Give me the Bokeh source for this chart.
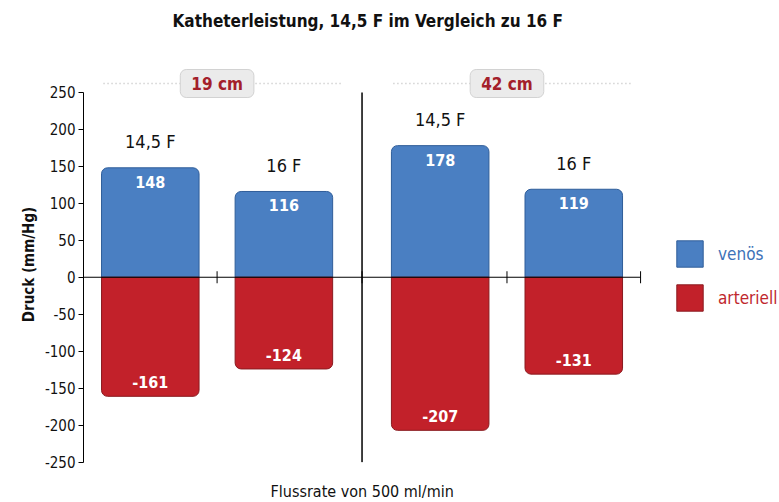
import math
from bokeh.plotting import figure
from bokeh.models import (Range1d, Title, Legend, LegendItem, ColumnDataSource, FixedTicker)
from bokeh.core.properties import value
from bokeh.embed import file_html
from bokeh.resources import INLINE

# ---- data ----
groups = ["19 cm", "42 cm"]
catheters = ["14,5 F", "16 F"]
venous = [148, 116, 178, 119]
arterial = [-161, -124, -207, -131]
y_ticks = [-250, -200, -150, -100, -50, 0, 50, 100, 150, 200, 250]

FONT = "DejaVu Sans Condensed"
BLUE = "#4a7fc2"
BLUE_EDGE = "#2f5d99"
RED = "#c2212a"
RED_EDGE = "#8a1a1f"

GAP = 0.17       # extra space between the two groups (in category units)
BAR_W = 0.73
n_c = len(catheters)
group_span = n_c + GAP
xpos = [gi * group_span + ci + 0.5 for gi in range(len(groups)) for ci in range(n_c)]
group_center = [gi * group_span + n_c / 2 for gi in range(len(groups))]
x_end = len(groups) * n_c + (len(groups) - 1) * GAP

src = ColumnDataSource(dict(
    x=xpos,
    cat=[c for g in groups for c in catheters],
    venous=venous,
    arterial=arterial,
    vtxt=[str(v) for v in venous],
    atxt=[str(v) for v in arterial],
))

p = figure(width=779, height=500, title=None,
           x_range=Range1d(0, 5.21),
           y_range=Range1d(-250.5, 285),
           output_backend="svg", toolbar_location=None, x_axis_location=None,
           min_border_left=83, min_border_right=0, min_border_top=66, min_border_bottom=38)
p.outline_line_color = None
p.grid.visible = False

# title (a blank spacer title sits between the frame and the real title)
p.add_layout(Title(text=" ", text_font_size="10px", standoff=23), "above")
p.add_layout(Title(text="Katheterleistung, 14,5 F im Vergleich zu 16 F", align="left",
                   offset=89, standoff=0, text_font=FONT, text_font_size="17px",
                   text_font_style="bold", text_color="#111111"), "above")

# y axis
ax = p.yaxis[0]
ax.bounds = (y_ticks[0], y_ticks[-1])
ax.ticker = FixedTicker(ticks=y_ticks)
ax.major_label_overrides = {t: str(t) for t in y_ticks}
ax.minor_tick_line_color = None
ax.major_tick_out = 5
ax.major_tick_in = 0
ax.major_label_standoff = 3
ax.major_label_text_font = FONT
ax.major_label_text_font_size = "15px"
ax.major_label_text_color = "#111111"
ax.axis_line_color = "black"
ax.major_tick_line_color = "black"
ax.axis_label = "Druck (mm/Hg)"
ax.axis_label_text_font = FONT
ax.axis_label_text_font_size = "15px"
ax.axis_label_text_font_style = "bold"
ax.axis_label_text_color = "#111111"
ax.axis_label_standoff = 4

# x label (with a blank spacer between frame and label)
p.add_layout(Title(text=" ", text_font_size="10px", standoff=4), "below")
p.add_layout(Title(text="Flussrate von 500 ml/min", align="left", offset=187, standoff=0,
                   text_font=FONT, text_font_size="16px", text_font_style="normal",
                   text_color="#111111"), "below")

# group headers: dotted line + boxed label
head_y = [y_ticks[-1] + 12] * len(groups)
p.segment(x0=[c - n_c / 2 + 0.15 for c in group_center], y0=head_y,
          x1=[c + n_c / 2 - 0.07 for c in group_center], y1=head_y,
          line_color="#bdbdbd", line_width=1.5, line_dash="1 3")
p.text(x=group_center, y=head_y, text=groups,
       text_font=value(FONT), text_font_size="17px", text_font_style="bold",
       text_color="#a3202a", text_align="center", text_baseline="middle",
       background_fill_color="#ebebeb", border_line_color="#d2d2d2",
       border_radius=6, padding=[11, 4])

# bars
blue = p.vbar(x="x", top="venous", bottom=0, width=BAR_W, source=src,
              fill_color=BLUE, line_color=BLUE_EDGE, line_width=1,
              border_radius=[6, 6, 0, 0])
red = p.vbar(x="x", top=0, bottom="arterial", width=BAR_W, source=src,
             fill_color=RED, line_color=RED_EDGE, line_width=1,
             border_radius=[0, 0, 6, 6])

# value labels
p.text(x="x", y="venous", text="vtxt", source=src, text_font=value(FONT),
       text_font_size="16px", text_font_style="bold", text_color="white",
       text_align="center", text_baseline="middle", y_offset=14)
p.text(x="x", y="arterial", text="atxt", source=src, text_font=value(FONT),
       text_font_size="16px", text_font_style="bold", text_color="white",
       text_align="center", text_baseline="middle", y_offset=-14)
p.text(x="x", y="venous", text="cat", source=src, text_font=value(FONT),
       text_font_size="18px", text_color="#111111",
       text_align="center", text_baseline="middle", y_offset=-26)

# zero line, separator between groups, ticks on zero line
p.segment(x0=[0], y0=[0], x1=[x_end], y1=[0], line_color="black", line_width=1.2)
sep = n_c + GAP / 2
p.segment(x0=[sep], y0=[y_ticks[0]], x1=[sep], y1=[y_ticks[-1]],
          line_color="black", line_width=1.5)
tick_x = [1.0, sep, group_span + 1.0, x_end]
p.scatter(x=tick_x, y=[0] * len(tick_x), marker="dash", angle=math.pi / 2, size=12,
          line_color="black", line_width=1)

# legends (one per item so that each label has its own colour)
def mk_legend(label, r, color, vy):
    lg = Legend(items=[LegendItem(label=label, renderers=[r])],
                location=(590, vy), padding=0, margin=0, spacing=0,
                border_line_color=None, background_fill_alpha=0,
                glyph_width=33, glyph_height=33, label_standoff=12,
                label_text_font=FONT, label_text_font_size="17px",
                label_text_color=color)
    p.add_layout(lg)

mk_legend("venös", blue, "#3d72b8", 192)
mk_legend("arteriell", red, "#c0272d", 148)

open("out.html", "w").write(file_html(p, INLINE))
